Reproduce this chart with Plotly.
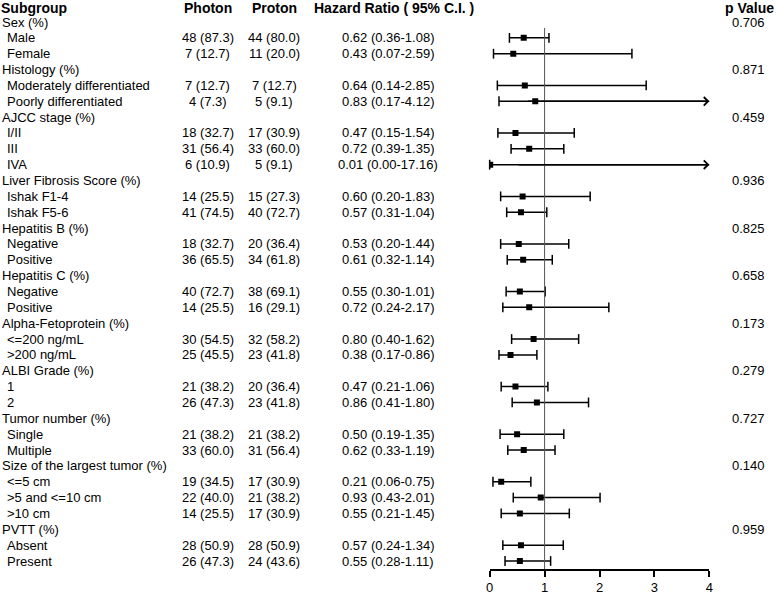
import plotly.graph_objects as go

FONT = "Liberation Sans, Arial, Helvetica, sans-serif"

# ---------------- data ----------------
group_names = ["Sex (%)", "Histology (%)", "AJCC stage (%)", "Liver Fibrosis Score (%)",
               "Hepatitis B (%)", "Hepatitis C (%)", "Alpha-Fetoprotein (%)", "ALBI Grade (%)",
               "Tumor number (%)", "Size of the largest tumor (%)", "PVTT (%)"]
group_p = ["0.706", "0.871", "0.459", "0.936", "0.825", "0.658", "0.173", "0.279",
           "0.727", "0.140", "0.959"]
group_sizes = [2, 2, 3, 2, 2, 2, 2, 2, 2, 3, 2]

sub_labels = ["Male", "Female",
              "Moderately differentiated", "Poorly differentiated",
              "I/II", "III", "IVA",
              "Ishak F1-4", "Ishak F5-6",
              "Negative", "Positive",
              "Negative", "Positive",
              "<=200 ng/mL", ">200 ng/mL",
              "1", "2",
              "Single", "Multiple",
              "<=5 cm", ">5 and <=10 cm", ">10 cm",
              "Absent", "Present"]
photon = ["48 (87.3)", "7 (12.7)", "7 (12.7)", "4 (7.3)", "18 (32.7)", "31 (56.4)", "6 (10.9)",
          "14 (25.5)", "41 (74.5)", "18 (32.7)", "36 (65.5)", "40 (72.7)", "14 (25.5)",
          "30 (54.5)", "25 (45.5)", "21 (38.2)", "26 (47.3)", "21 (38.2)", "33 (60.0)",
          "19 (34.5)", "22 (40.0)", "14 (25.5)", "28 (50.9)", "26 (47.3)"]
proton = ["44 (80.0)", "11 (20.0)", "7 (12.7)", "5 (9.1)", "17 (30.9)", "33 (60.0)", "5 (9.1)",
          "15 (27.3)", "40 (72.7)", "20 (36.4)", "34 (61.8)", "38 (69.1)", "16 (29.1)",
          "32 (58.2)", "23 (41.8)", "20 (36.4)", "23 (41.8)", "21 (38.2)", "31 (56.4)",
          "17 (30.9)", "21 (38.2)", "17 (30.9)", "28 (50.9)", "24 (43.6)"]
hr = [0.62, 0.43, 0.64, 0.83, 0.47, 0.72, 0.01, 0.60, 0.57, 0.53, 0.61, 0.55, 0.72,
      0.80, 0.38, 0.47, 0.86, 0.50, 0.62, 0.21, 0.93, 0.55, 0.57, 0.55]
lower = [0.36, 0.07, 0.14, 0.17, 0.15, 0.39, 0.00, 0.20, 0.31, 0.20, 0.32, 0.30, 0.24,
         0.40, 0.17, 0.21, 0.41, 0.19, 0.33, 0.06, 0.43, 0.21, 0.24, 0.28]
upper = [1.08, 2.59, 2.85, 4.12, 1.54, 1.35, 17.16, 1.83, 1.04, 1.44, 1.14, 1.01, 2.17,
         1.62, 0.86, 1.06, 1.80, 1.35, 1.19, 0.75, 2.01, 1.45, 1.34, 1.11]

x_ticks = [0, 1, 2, 3, 4]
headers = ["Subgroup", "Photon", "Proton", "Hazard Ratio ( 95% C.I. )", "p Value"]

# ---------------- layout helpers ----------------
W, H = 778, 596
XMAX = 4


def esc(s):
    return s.replace("&", "&amp;").replace("<", "&lt;").replace(">", "&gt;")


# assign row indices (header row = 0)
group_rows = []
sub_rows = []
r = 1
for g, n in zip(group_names, group_sizes):
    group_rows.append(r)
    r += 1
    for _ in range(n):
        sub_rows.append(r)
        r += 1

row_px0 = 6.15
row_h = 15.853
plot_bottom_px = 569.0
y_top = (0 - row_px0) / row_h
y_bot = (plot_bottom_px - row_px0) / row_h
header_row = (8.0 - row_px0) / row_h


def px(xp):
    return xp / W


fig = go.Figure()

# CI lines
lx, ly = [], []
for lo, hi, rr in zip(lower, upper, sub_rows):
    lx += [lo, min(hi, XMAX), None]
    ly += [rr, rr, None]
fig.add_trace(go.Scatter(x=lx, y=ly, mode="lines", line=dict(color="black", width=1.5),
                         hoverinfo="skip", showlegend=False, cliponaxis=False))

# caps
cx, cy = [], []
for lo, hi, rr in zip(lower, upper, sub_rows):
    cx.append(lo)
    cy.append(rr)
    if hi <= XMAX:
        cx.append(hi)
        cy.append(rr)
fig.add_trace(go.Scatter(x=cx, y=cy, mode="markers",
                         marker=dict(symbol="line-ns", size=7, line=dict(color="black", width=1.5)),
                         hoverinfo="skip", showlegend=False, cliponaxis=False))

# point estimates
fig.add_trace(go.Scatter(x=hr, y=sub_rows, mode="markers",
                         marker=dict(symbol="square", size=6, color="black"),
                         hoverinfo="skip", showlegend=False, cliponaxis=True))

# arrows for truncated CIs
annotations = []
for lo, hi, rr in zip(lower, upper, sub_rows):
    if hi > XMAX:
        annotations.append(dict(x=XMAX, y=rr, ax=max(lo, 0) + 0.5, ay=rr, xref="x", yref="y",
                                axref="x", ayref="y", text="", showarrow=True, arrowhead=4,
                                arrowsize=1.1, arrowwidth=1.5, arrowcolor="black"))

# reference line at HR = 1
fig.add_shape(type="line", x0=1, x1=1, y0=1.38, y1=y_bot, xref="x", yref="y",
              line=dict(color="#555555", width=1))

# text columns
col_x = {"photon": 206, "proton": 273, "hr": 388, "p": 752}
base_font = dict(family=FONT, size=13, color="black")
head_font = dict(family=FONT, size=14, color="black")


def ann(text, xp, row, anchor="center", font=base_font):
    annotations.append(dict(text=text, x=px(xp), y=row, xref="paper", yref="y",
                            xanchor=anchor, yanchor="middle", showarrow=False, font=font,
                            borderpad=0))


ann("<b>%s</b>" % headers[0], -4.5, header_row, "left", head_font)
ann("<b>%s</b>" % headers[1], col_x["photon"], header_row, "center", head_font)
ann("<b>%s</b>" % headers[2], col_x["proton"], header_row, "center", head_font)
ann("<b>%s</b>" % headers[3], 394, header_row, "center", head_font)
ann("<b>%s</b>" % headers[4], col_x["p"] + 1, header_row, "center", head_font)

for g, p, rr in zip(group_names, group_p, group_rows):
    ann(esc(g), -3.5, rr, "left")
    ann(p, col_x["p"], rr, "center")

for i, rr in enumerate(sub_rows):
    ann(esc(sub_labels[i]), 2.5, rr, "left")
    ann(photon[i], col_x["photon"], rr, "center")
    ann(proton[i], col_x["proton"], rr, "center")
    ann("%.2f (%.2f-%.2f)" % (hr[i], lower[i], upper[i]), col_x["hr"], rr, "center")

fig.update_layout(
    width=W, height=H,
    margin=dict(l=0, r=0, t=0, b=0),
    paper_bgcolor="white", plot_bgcolor="white",
    showlegend=False,
    annotations=annotations,
    xaxis=dict(domain=[490.7 / W, 712.7 / W], range=[0, XMAX], tickvals=x_ticks,
               showgrid=False, zeroline=False, showline=True, linecolor="black", linewidth=1.5,
               ticks="outside", ticklen=6, tickwidth=1.5, tickcolor="black",
               tickfont=dict(family=FONT, size=13, color="black"), fixedrange=True),
    yaxis=dict(domain=[(H - plot_bottom_px) / H, 1], range=[y_bot, y_top], visible=False,
               showgrid=False, zeroline=False, fixedrange=True),
)

fig.write_html("out.html", config={"displayModeBar": False},
               post_script="document.body.style.margin='0';document.body.style.padding='0';")
